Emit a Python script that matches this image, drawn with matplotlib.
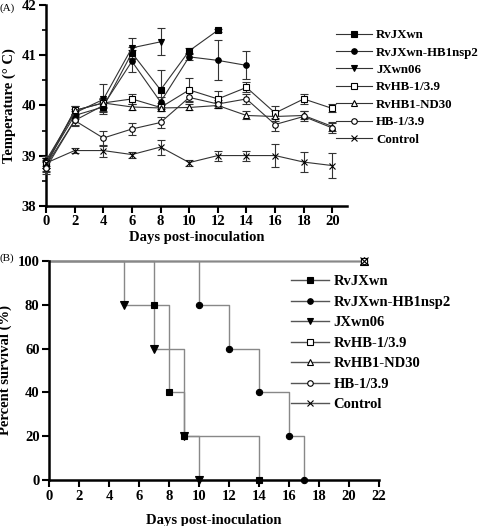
import numpy as np
import matplotlib
matplotlib.use('Agg')
import matplotlib.pyplot as plt
from matplotlib.lines import Line2D

plt.rcParams['font.family'] = ['Liberation Serif', 'DejaVu Serif']
plt.rcParams['font.weight'] = 'bold'

# panel A: temperature
names = ['RvJXwn', 'RvJXwn-HB1nsp2', 'JXwn06', 'RvHB-1/3.9', 'RvHB1-ND30', 'HB-1/3.9', 'Control']
days_a = [0, 2, 4, 6, 8, 10, 12, 14, 16, 18, 20]
temp_rvjxwn = [38.85, 39.8, 39.97, 41.05, 40.31, 41.09, 41.5]
temp_hb1nsp2 = [38.8, 39.7, 40.0, 40.88, 40.07, 40.97, 40.9, 40.8]
temp_jxwn06 = [38.9, 39.85, 40.12, 41.15, 41.27]
temp_rvhb = [38.85, 39.9, 40.05, 40.13, 39.96, 40.31, 40.13, 40.36, 39.85, 40.13, 39.94]
temp_nd30 = [38.8, 39.9, 40.05, 39.97, 39.95, 39.96, 40.0, 39.8, 39.78, 39.8, 39.58]
temp_hb = [38.75, 39.7, 39.35, 39.53, 39.66, 40.16, 40.03, 40.13, 39.62, 39.78, 39.55]
temp_ctrl = [38.85, 39.1, 39.1, 39.02, 39.17, 38.86, 39.0, 39.0, 39.0, 38.87, 38.8]

err_rvjxwn = [0.1, 0.08, 0.1, 0.12, 0.39, 0.05, 0.03]
err_hb1nsp2 = [0.12, 0.08, 0.12, 0.22, 0.1, 0.06, 0.4, 0.28]
err_jxwn06 = [0.1, 0.08, 0.3, 0.2, 0.27]
err_rvhb = [0.1, 0.08, 0.1, 0.1, 0.08, 0.23, 0.15, 0.1, 0.13, 0.1, 0.08]
err_nd30 = [0.1, 0.08, 0.08, 0.06, 0.06, 0.06, 0.06, 0.08, 0.1, 0.08, 0.08]
err_hb = [0.12, 0.1, 0.15, 0.12, 0.1, 0.1, 0.08, 0.1, 0.12, 0.1, 0.1]
err_ctrl = [0.1, 0.05, 0.12, 0.06, 0.15, 0.06, 0.1, 0.1, 0.23, 0.2, 0.25]

# panel B: survival (event days, percent)
surv_t_rvjxwn = [0, 7, 8, 9, 14]
surv_s_rvjxwn = [100, 80, 40, 20, 0]
surv_t_hb1nsp2 = [0, 10, 12, 14, 16, 17]
surv_s_hb1nsp2 = [100, 80, 60, 40, 20, 0]
surv_t_jxwn06 = [0, 5, 7, 9, 10]
surv_s_jxwn06 = [100, 80, 60, 20, 0]
surv_t_other = [0, 21]
surv_s_other = [100, 100]

markers = ['s', 'o', 'v', 's', '^', 'o', 'x']
fills = ['black', 'black', 'black', 'white', 'white', 'white', 'none']
sizes = [4.5, 4, 5, 4.5, 5, 4, 5]

fig = plt.figure(figsize=(4.8, 5.26), dpi=100)

def style_axes(ax):
    for s in ['top', 'right']:
        ax.spines[s].set_visible(False)
    for s in ['left', 'bottom']:
        ax.spines[s].set_linewidth(1.8)
    ax.tick_params(width=1.5, length=5, labelsize=10.5, pad=2)
    for lab in ax.get_xticklabels() + ax.get_yticklabels():
        lab.set_fontweight('bold')

# ---- A ----
axA = fig.add_axes([0.0958, 0.609, 0.6265, 0.381])
temps = [temp_rvjxwn, temp_hb1nsp2, temp_jxwn06, temp_rvhb, temp_nd30, temp_hb, temp_ctrl]
errs = [err_rvjxwn, err_hb1nsp2, err_jxwn06, err_rvhb, err_nd30, err_hb, err_ctrl]
handles_a = []
for k in range(7):
    d = days_a[:len(temps[k])]
    axA.errorbar(d, temps[k], yerr=errs[k], color='#333333', lw=0.8, elinewidth=0.8,
                 capsize=3, capthick=0.8, marker=markers[k], ms=sizes[k], mfc=fills[k],
                 mec='black', mew=0.8, clip_on=False, zorder=3)
    handles_a.append(Line2D([], [], color='#333333', lw=0.8, marker=markers[k], ms=sizes[k],
                            mfc=fills[k], mec='black', mew=0.8))
axA.set_xlim(0, 21)
axA.set_ylim(38, 42)
axA.set_xticks(range(0, 21, 2))
axA.set_yticks([38, 39, 40, 41, 42])
axA.set_yticks(np.arange(38.5, 42, 1), minor=True)
axA.tick_params(which='minor', width=1.2, length=3)
style_axes(axA)
axA.set_xlabel('Days post-inoculation', fontsize=10.5, fontweight='bold', labelpad=2)
axA.set_ylabel('Temperature (° C)', fontsize=10.5, fontweight='bold', labelpad=4)
axA.legend(handles_a, names, loc='upper left', bbox_to_anchor=(336 / 480, 1 - 29 / 526),
           bbox_transform=fig.transFigure, frameon=False, fontsize=9.3, handlelength=2.8,
           handletextpad=0.3, labelspacing=0.42, borderpad=0, borderaxespad=0)
fig.text(0.0, 1 - 8 / 526, '(A)', fontsize=8, fontweight='normal', va='center')

# ---- B ----
axB = fig.add_axes([0.1027, 0.0875, 0.6869, 0.4163])
surv_t = [surv_t_rvjxwn, surv_t_hb1nsp2, surv_t_jxwn06, surv_t_other, surv_t_other, surv_t_other, surv_t_other]
surv_s = [surv_s_rvjxwn, surv_s_hb1nsp2, surv_s_jxwn06, surv_s_other, surv_s_other, surv_s_other, surv_s_other]
handles_b = []
for k in range(7):
    axB.step(surv_t[k], surv_s[k], where='post', color='#888888', lw=1.0, clip_on=False, zorder=2)
for k in range(7):
    axB.plot(surv_t[k][1:], surv_s[k][1:], ls='none', marker=markers[k], ms=sizes[k] + 0.5,
             mfc=fills[k], mec='black', mew=0.8, clip_on=False, zorder=3)
    handles_b.append(Line2D([], [], color='#555555', lw=1.0, marker=markers[k], ms=sizes[k],
                            mfc=fills[k], mec='black', mew=0.8))
axB.set_xlim(0, 22)
axB.set_ylim(0, 100)
axB.set_xticks(range(0, 23, 2))
axB.set_yticks(range(0, 101, 20))
style_axes(axB)
axB.set_xlabel('Days post-inoculation', fontsize=10.5, fontweight='bold', labelpad=8)
axB.set_ylabel('Percent survival (%)', fontsize=10.5, fontweight='bold', labelpad=4)
axB.legend(handles_b, names, loc='upper left', bbox_to_anchor=(291 / 480, 1 - 275 / 526),
           bbox_transform=fig.transFigure, frameon=False, fontsize=10.5, handlelength=2.6,
           handletextpad=0.3, labelspacing=0.5, borderpad=0, borderaxespad=0)
fig.text(0.0, 1 - 258 / 526, '(B)', fontsize=8, fontweight='normal', va='center')

fig.savefig('out.png', dpi=100)
